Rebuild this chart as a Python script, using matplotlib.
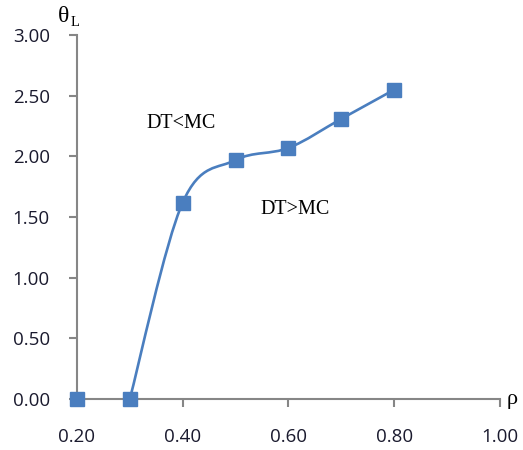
import matplotlib
matplotlib.use("Agg")
import matplotlib.pyplot as plt
from matplotlib.path import Path
import matplotlib.patches as mpatches
import numpy as np

# données
rho = [0.20, 0.30, 0.40, 0.50, 0.60, 0.70, 0.80]
theta_L = [0.00, 0.00, 1.62, 1.97, 2.07, 2.31, 2.55]
x_ticks = [0.20, 0.40, 0.60, 0.80, 1.00]
y_ticks = [0.00, 0.50, 1.00, 1.50, 2.00, 2.50, 3.00]

BLUE = "#4A7EBF"
GRAY = "#868686"


def excel_smooth_path(xs, ys):
    # lissage type Excel (Bezier cubique, tension 1/6)
    pts = np.column_stack([xs, ys]).astype(float)
    n = len(pts)
    verts = [pts[0]]
    codes = [Path.MOVETO]
    for i in range(n - 1):
        p_prev = pts[i - 1] if i > 0 else pts[i]
        p_next2 = pts[i + 2] if i + 2 < n else pts[i + 1]
        c1 = pts[i] + (pts[i + 1] - p_prev) / 6
        c2 = pts[i + 1] - (p_next2 - pts[i]) / 6
        verts += [c1, c2, pts[i + 1]]
        codes += [Path.CURVE4] * 3
    return Path(verts, codes)


fig = plt.figure(figsize=(5.23, 4.5), dpi=100)
ax = fig.add_axes([0.147, 0.113, 0.809, 0.809])

# courbe lissée (à partir de rho = 0.3)
path = excel_smooth_path(rho[1:], theta_L[1:])
ax.add_patch(mpatches.PathPatch(path, facecolor="none", edgecolor=BLUE,
                                linewidth=1.9, zorder=3, clip_on=False))
ax.plot(rho, theta_L, linestyle="none", marker="s", markersize=9.5,
        color=BLUE, zorder=4, clip_on=False)

ax.set_xlim(0.2, 1.0)
ax.set_ylim(0, 3.0)
ax.set_xticks(x_ticks)
ax.set_yticks(y_ticks)
ax.set_xticklabels([f"{v:.2f}" for v in x_ticks])
ax.set_yticklabels([f"{v:.2f}" for v in y_ticks])

for s in ["top", "right"]:
    ax.spines[s].set_visible(False)
for s in ["left", "bottom"]:
    ax.spines[s].set_color(GRAY)
    ax.spines[s].set_linewidth(1.5)

ax.tick_params(axis="both", direction="out", length=5.5, width=1.5,
               color=GRAY, labelsize=13.5, labelcolor="#1a1a2e")
ax.tick_params(axis="y", pad=14)
ax.tick_params(axis="x", pad=15)
for lab in ax.get_xticklabels() + ax.get_yticklabels():
    lab.set_fontfamily("Open Sans")

# étiquettes des axes (theta_L en haut, rho à droite)
fig.text(64 / 523, 1 - 17 / 450, "θ", fontsize=17, family="Liberation Serif",
         ha="center", va="center")
fig.text(71 / 523, 1 - 23 / 450, "L", fontsize=10.5, family="Liberation Serif",
         ha="left", va="center")
ax.text(1.015, 0.0, "ρ", transform=ax.transAxes, fontsize=16,
        family="Liberation Serif", ha="left", va="center")

ax.text(0.397, 2.27, "DT<MC", fontsize=14.5, family="Liberation Serif",
        ha="center", va="center")
ax.text(0.612, 1.56, "DT>MC", fontsize=14.5, family="Liberation Serif",
        ha="center", va="center")

fig.savefig("out.png", dpi=100)
plt.close(fig)
